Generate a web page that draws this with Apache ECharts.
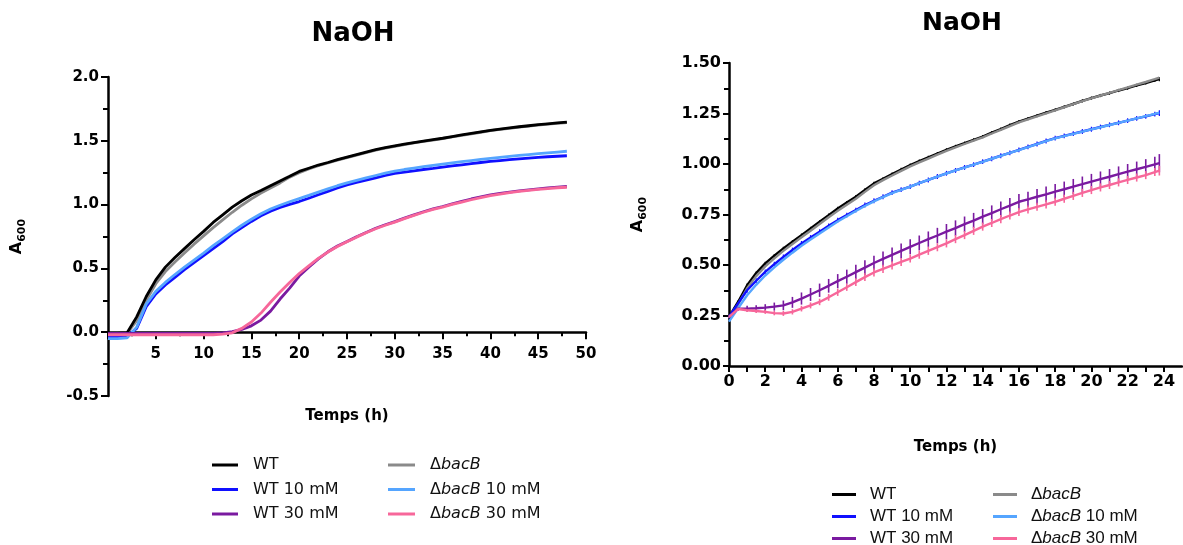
<!DOCTYPE html>
<html><head><meta charset="utf-8">
<script src="https://cdn.jsdelivr.net/npm/echarts@6/dist/echarts.min.js"></script>
<style>html,body{margin:0;padding:0;background:#fff}#c{width:1183px;height:545px}</style>
</head><body><div id="c"></div>
<script>
// ---------- Left panel (0–48 h) ----------
const timeL = [0,1,2,3,4,5,6,7,8,9,10,11,12,13,14,15,16,17,18,19,20,21,22,23,24,25,26,27,28,29,30,31,32,33,34,35,36,37,38,39,40,41,42,43,44,45,46,47,48];
const wtL = [-0.01,-0.01,-0.005,0.12,0.28,0.41,0.51,0.585,0.655,0.725,0.79,0.86,0.92,0.98,1.03,1.075,1.11,1.148,1.185,1.222,1.26,1.285,1.31,1.33,1.352,1.372,1.392,1.412,1.43,1.446,1.46,1.473,1.486,1.498,1.509,1.52,1.533,1.546,1.558,1.57,1.582,1.592,1.601,1.61,1.618,1.626,1.633,1.64,1.647];
const bacL = [-0.01,-0.01,-0.01,0.09,0.25,0.38,0.475,0.55,0.62,0.69,0.755,0.82,0.88,0.94,0.995,1.045,1.09,1.13,1.17,1.215,1.25,1.28,1.305,1.326,1.348,1.368,1.388,1.408,1.427,1.443,1.457,1.47,1.483,1.495,1.506,1.517,1.53,1.543,1.555,1.567,1.579,1.589,1.598,1.607,1.615,1.623,1.63,1.637,1.643];
const wt10L = [-0.035,-0.035,-0.03,0.03,0.2,0.3,0.37,0.43,0.49,0.545,0.6,0.655,0.71,0.77,0.82,0.868,0.912,0.948,0.978,1.002,1.024,1.05,1.077,1.104,1.13,1.155,1.174,1.192,1.21,1.228,1.245,1.255,1.265,1.275,1.284,1.294,1.303,1.312,1.321,1.33,1.338,1.345,1.352,1.358,1.364,1.37,1.375,1.379,1.383];
const bac10L = [-0.05,-0.05,-0.045,0.04,0.22,0.32,0.39,0.452,0.51,0.565,0.62,0.678,0.732,0.786,0.838,0.885,0.928,0.965,0.995,1.022,1.047,1.072,1.098,1.123,1.148,1.17,1.19,1.21,1.228,1.246,1.263,1.275,1.286,1.297,1.307,1.317,1.327,1.336,1.345,1.354,1.362,1.37,1.378,1.385,1.392,1.399,1.406,1.412,1.418];
const wt30L = [-0.01,-0.01,-0.01,-0.01,-0.01,-0.01,-0.01,-0.01,-0.01,-0.01,-0.01,-0.01,-0.005,0.005,0.022,0.05,0.095,0.165,0.26,0.345,0.44,0.51,0.575,0.63,0.675,0.711,0.748,0.782,0.815,0.842,0.867,0.894,0.92,0.944,0.966,0.985,1.006,1.025,1.044,1.061,1.077,1.088,1.098,1.107,1.116,1.124,1.131,1.137,1.142];
const bac30L = [-0.02,-0.02,-0.02,-0.02,-0.02,-0.02,-0.02,-0.02,-0.02,-0.02,-0.02,-0.02,-0.015,-0.005,0.03,0.08,0.15,0.235,0.315,0.39,0.46,0.52,0.578,0.628,0.672,0.709,0.745,0.779,0.811,0.838,0.863,0.89,0.916,0.94,0.962,0.981,1.001,1.02,1.038,1.055,1.07,1.082,1.093,1.103,1.112,1.12,1.126,1.132,1.136];

// ---------- Right panel (0–24 h) ----------
const timeR = [0,0.5,1,1.5,2,2.5,3,3.5,4,4.5,5,5.5,6,6.5,7,7.5,8,8.5,9,9.5,10,10.5,11,11.5,12,12.5,13,13.5,14,14.5,15,15.5,16,16.5,17,17.5,18,18.5,19,19.5,20,20.5,21,21.5,22,22.5,23,23.5,23.75];
const wtR = [0.243,0.317,0.40,0.46,0.508,0.546,0.582,0.615,0.648,0.681,0.714,0.747,0.78,0.809,0.838,0.872,0.904,0.927,0.95,0.973,0.995,1.014,1.033,1.052,1.07,1.087,1.103,1.12,1.136,1.155,1.173,1.192,1.21,1.225,1.239,1.254,1.268,1.283,1.297,1.312,1.326,1.339,1.351,1.364,1.376,1.389,1.401,1.414,1.42];
const bacR = [0.24,0.305,0.385,0.445,0.493,0.533,0.57,0.604,0.637,0.67,0.703,0.736,0.768,0.798,0.828,0.862,0.895,0.92,0.943,0.966,0.988,1.008,1.027,1.046,1.065,1.082,1.099,1.116,1.132,1.151,1.169,1.188,1.206,1.221,1.236,1.251,1.266,1.281,1.296,1.311,1.325,1.339,1.352,1.366,1.379,1.393,1.406,1.42,1.428];
const wt10R = [0.243,0.31,0.375,0.422,0.466,0.504,0.54,0.574,0.607,0.636,0.665,0.694,0.722,0.747,0.772,0.797,0.818,0.838,0.858,0.873,0.888,0.905,0.921,0.938,0.954,0.968,0.983,0.997,1.012,1.026,1.041,1.055,1.07,1.085,1.099,1.114,1.128,1.139,1.15,1.161,1.172,1.183,1.194,1.204,1.215,1.226,1.236,1.247,1.252];
const bac10R = [0.22,0.285,0.35,0.402,0.448,0.488,0.526,0.561,0.595,0.626,0.656,0.686,0.715,0.741,0.767,0.792,0.815,0.836,0.856,0.872,0.888,0.905,0.921,0.937,0.953,0.968,0.982,0.997,1.011,1.026,1.04,1.055,1.069,1.084,1.098,1.113,1.127,1.138,1.149,1.16,1.171,1.182,1.193,1.204,1.215,1.226,1.237,1.248,1.254];
const wt30R = [0.243,0.284,0.284,0.286,0.289,0.294,0.30,0.315,0.334,0.354,0.375,0.397,0.42,0.442,0.465,0.487,0.51,0.53,0.55,0.57,0.59,0.609,0.628,0.646,0.665,0.683,0.702,0.72,0.739,0.757,0.776,0.794,0.813,0.825,0.838,0.85,0.863,0.875,0.888,0.9,0.913,0.925,0.937,0.95,0.962,0.974,0.986,0.998,1.004];
const bac30R = [0.243,0.282,0.276,0.272,0.268,0.262,0.26,0.268,0.284,0.30,0.317,0.34,0.365,0.39,0.415,0.44,0.463,0.481,0.498,0.515,0.532,0.551,0.57,0.588,0.607,0.628,0.648,0.669,0.69,0.708,0.727,0.745,0.762,0.775,0.788,0.8,0.813,0.828,0.842,0.857,0.871,0.884,0.896,0.909,0.921,0.933,0.945,0.96,0.967];
// error bars (SD) for right panel
const errWtR = [0.006,0.008,0.008,0.008,0.008,0.008,0.008,0.008,0.008,0.008,0.008,0.008,0.008,0.008,0.008,0.008,0.008,0.008,0.008,0.008,0.008,0.008,0.008,0.008,0.008,0.008,0.008,0.008,0.008,0.008,0.008,0.008,0.008,0.008,0.008,0.008,0.008,0.008,0.008,0.008,0.008,0.008,0.008,0.008,0.008,0.008,0.008,0.008,0.01];
const errWt10R = [0.008,0.012,0.012,0.012,0.012,0.012,0.012,0.012,0.012,0.012,0.012,0.012,0.012,0.012,0.012,0.012,0.012,0.012,0.012,0.012,0.012,0.012,0.012,0.012,0.012,0.012,0.012,0.012,0.012,0.012,0.012,0.012,0.012,0.012,0.012,0.012,0.012,0.012,0.012,0.012,0.012,0.012,0.012,0.012,0.012,0.012,0.012,0.012,0.014];
const errWt30R = [0.005,0.012,0.014,0.015,0.017,0.02,0.024,0.027,0.03,0.032,0.033,0.034,0.035,0.035,0.036,0.036,0.036,0.037,0.037,0.037,0.037,0.037,0.038,0.038,0.038,0.038,0.038,0.038,0.038,0.038,0.038,0.038,0.038,0.038,0.038,0.038,0.038,0.038,0.038,0.038,0.038,0.038,0.038,0.038,0.038,0.038,0.038,0.038,0.045];
const errBac30R = [0.005,0.008,0.009,0.01,0.01,0.011,0.012,0.013,0.014,0.015,0.016,0.017,0.018,0.018,0.019,0.019,0.02,0.02,0.02,0.02,0.02,0.02,0.02,0.02,0.02,0.02,0.02,0.02,0.02,0.02,0.02,0.02,0.02,0.02,0.02,0.02,0.02,0.02,0.02,0.02,0.02,0.02,0.02,0.02,0.02,0.02,0.02,0.02,0.024];

const seriesNames = ['WT','ΔbacB','WT 10 mM','ΔbacB 10 mM','WT 30 mM','ΔbacB 30 mM'];
const seriesColors = ['#000000','#8a8a8a','#1010ff','#55a5ff','#7a1aa0','#f7679a'];
const tickLabelsR = [0,2,4,6,8,10,12,14,16,18,20,22,24];
const tickMarksR = [0,1,2,3,4,5,6,7,8,9,10,11,12,13,14,15,16,17,18,19,20,21,22,23,24];

const FL = 'DejaVu Sans';
const FR = 'Liberation Sans';

function pairs(t, v) { return t.map((x, i) => [x, v[i]]); }
function triples(t, v, e) { return t.map((x, i) => [x, v[i], e[i]]); }

function lineSeries(name, color, t, v, idx, width) {
  return { type: 'line', name: name, xAxisIndex: idx, yAxisIndex: idx, data: pairs(t, v),
    showSymbol: false, symbol: 'none', color: color, itemStyle: { color: color },
    lineStyle: { color: color, width: width }, animation: false, z: 3 };
}
function errSeries(color, t, v, e, width) {
  return { type: 'custom', xAxisIndex: 1, yAxisIndex: 1, data: triples(t, v, e), silent: true,
    encode: { x: 0, y: 1 }, animation: false, z: 3,
    renderItem: function (params, api) {
      const x = api.value(0), y = api.value(1), d = api.value(2);
      const a = api.coord([x, y - d]), b = api.coord([x, y + d]);
      return { type: 'line', shape: { x1: a[0], y1: a[1], x2: b[0], y2: b[1] },
        style: { stroke: color, lineWidth: width } };
    } };
}

function legendFmt(name) {
  if (name.charAt(0) === 'Δ') {
    const rest = name.slice(5);
    return '{g| }{d|Δ}{i|bacB}' + (rest ? '{t|' + rest + '}' : '');
  }
  return '{g| }{t|' + name + '}';
}
function legendRich(font, size, gap, lh) {
  return {
    g: { width: gap, fontSize: size, lineHeight: lh },
    t: { fontFamily: font, fontSize: size, color: '#111', lineHeight: lh },
    d: { fontFamily: font, fontSize: size, color: '#111', lineHeight: lh },
    i: { fontFamily: font, fontSize: size, color: '#111', fontStyle: 'italic', lineHeight: lh }
  };
}
function legend(data, left, top, font, size, gap, lh, itemGap, iw) {
  return { data: data, orient: 'vertical', left: left, top: top, height: 90, padding: 0, icon: 'rect',
    itemWidth: iw, itemHeight: 3, itemGap: itemGap, selectedMode: false, formatter: legendFmt,
    textStyle: { rich: legendRich(font, size, gap, lh) } };
}

function yName(font, size, sub) {
  return { fontFamily: font, fontWeight: 'bold', color: '#000',
    rich: { a: { fontFamily: font, fontSize: size, fontWeight: 'bold', lineHeight: 22, color: '#000' },
            s: { fontFamily: font, fontSize: sub, fontWeight: 'bold', verticalAlign: 'bottom', lineHeight: 22, color: '#000' } } };
}

const series = [];
const leftData = [wtL, bacL, wt10L, bac10L, wt30L, bac30L];
const rightData = [wtR, bacR, wt10R, bac10R, wt30R, bac30R];
const leftOrder = [1, 0, 2, 3, 4, 5];
for (const k of leftOrder) {
  series.push(lineSeries(seriesNames[k], seriesColors[k], timeL, leftData[k], 0, 2.8));
}
const rightErr = [errWtR, null, errWt10R, null, errWt30R, errBac30R];
for (let k = 0; k < 6; k++) {
  series.push(lineSeries(seriesNames[k], seriesColors[k], timeR, rightData[k], 1, 2.4));
  if (rightErr[k]) series.push(errSeries(seriesColors[k], timeR, rightData[k], rightErr[k], k >= 4 ? 1.6 : 1.2));
}

// left grid: top 77, bottom edge 396; y range -0.5..2.0 -> y=0 sits 1/5 of the height above the bottom
const gridLTop = 77, gridLBottom = 396;
const zeroOffsetL = -(gridLBottom - gridLTop) * (0.5 / 2.5);

const axisLineStyle = { color: '#000', width: 2.5 };
const option = {
  backgroundColor: '#ffffff',
  animation: false,
  title: [
    { text: 'NaOH', left: 348, top: 16, textAlign: 'center',
      textStyle: { fontFamily: FL, fontSize: 26, fontWeight: 'bold', color: '#000' } },
    { text: 'NaOH', left: 957, top: 6, textAlign: 'center',
      textStyle: { fontFamily: FL, fontSize: 25, fontWeight: 'bold', color: '#000' } }
  ],
  legend: [
    legend(['WT', 'WT 10 mM', 'WT 30 mM'], 212, 457, FL, 16, 10, 18, 8.5, 26),
    legend(['ΔbacB', 'ΔbacB 10 mM', 'ΔbacB 30 mM'], 388, 457, FL, 16, 10, 18, 8.5, 27),
    legend(['WT', 'WT 10 mM', 'WT 30 mM'], 832, 486, FR, 17, 9, 20, 5, 24),
    legend(['ΔbacB', 'ΔbacB 10 mM', 'ΔbacB 30 mM'], 993, 486, FR, 17, 9, 20, 5, 24)
  ],
  grid: [
    { left: 108, right: 1183 - 586, top: gridLTop, bottom: 545 - gridLBottom, containLabel: false },
    { left: 729, right: 1, top: 63, bottom: 545 - 366, containLabel: false }
  ],
  xAxis: [
    { gridIndex: 0, type: 'value', min: 0, max: 50, interval: 5, position: 'bottom', offset: zeroOffsetL,
      axisLine: { onZero: false, lineStyle: axisLineStyle },
      axisTick: { length: 7, lineStyle: { color: '#000', width: 2 } },
      minorTick: { show: true, splitNumber: 2, length: 4, lineStyle: { color: '#000', width: 2 } },
      splitLine: { show: false },
      axisLabel: { showMinLabel: false, margin: 14, fontFamily: FL, fontSize: 15, fontWeight: 'bold', color: '#000' },
      name: 'Temps (h)', nameLocation: 'middle', nameGap: 76, nameMoveOverlap: false,
      nameTextStyle: { fontFamily: FL, fontSize: 15, fontWeight: 'bold', color: '#000' } },
    { gridIndex: 1, type: 'value', min: 0, max: 25, interval: 1,
      axisLine: { onZero: false, lineStyle: axisLineStyle },
      axisTick: { length: 6, customValues: tickMarksR, lineStyle: { color: '#000', width: 2 } },
      splitLine: { show: false },
      axisLabel: { customValues: tickLabelsR, margin: 8, fontFamily: FL, fontSize: 16, fontWeight: 'bold', color: '#000' },
      name: 'Temps (h)', nameLocation: 'middle', nameGap: 74,
      nameTextStyle: { fontFamily: FL, fontSize: 15, fontWeight: 'bold', color: '#000' } }
  ],
  yAxis: [
    { gridIndex: 0, type: 'value', min: -0.5, max: 2.0, interval: 0.5,
      axisLine: { show: true, onZero: false, lineStyle: axisLineStyle },
      axisTick: { show: true, length: 7, lineStyle: { color: '#000', width: 2 } },
      minorTick: { show: true, splitNumber: 2, length: 5, lineStyle: { color: '#000', width: 2 } },
      splitLine: { show: false },
      axisLabel: { margin: 9, formatter: v => v.toFixed(1), fontFamily: FL, fontSize: 15, fontWeight: 'bold', color: '#000' },
      name: '{a|A}{s|600}', nameLocation: 'middle', nameGap: 80, nameTextStyle: yName(FL, 16, 11) },
    { gridIndex: 1, type: 'value', min: 0, max: 1.5, interval: 0.25,
      axisLine: { show: true, onZero: false, lineStyle: axisLineStyle },
      axisTick: { show: true, length: 6, lineStyle: { color: '#000', width: 2 } },
      minorTick: { show: true, splitNumber: 2, length: 5, lineStyle: { color: '#000', width: 2 } },
      splitLine: { show: false },
      axisLabel: { margin: 8, formatter: v => v.toFixed(2), fontFamily: FL, fontSize: 16, fontWeight: 'bold', color: '#000' },
      name: '{a|A}{s|600}', nameLocation: 'middle', nameGap: 80, nameTextStyle: yName(FL, 16, 11) }
  ],
  series: series
};

const chart = echarts.init(document.getElementById('c'), null, { renderer: 'canvas', width: 1183, height: 545 });
chart.setOption(option);
</script>
</body></html>
